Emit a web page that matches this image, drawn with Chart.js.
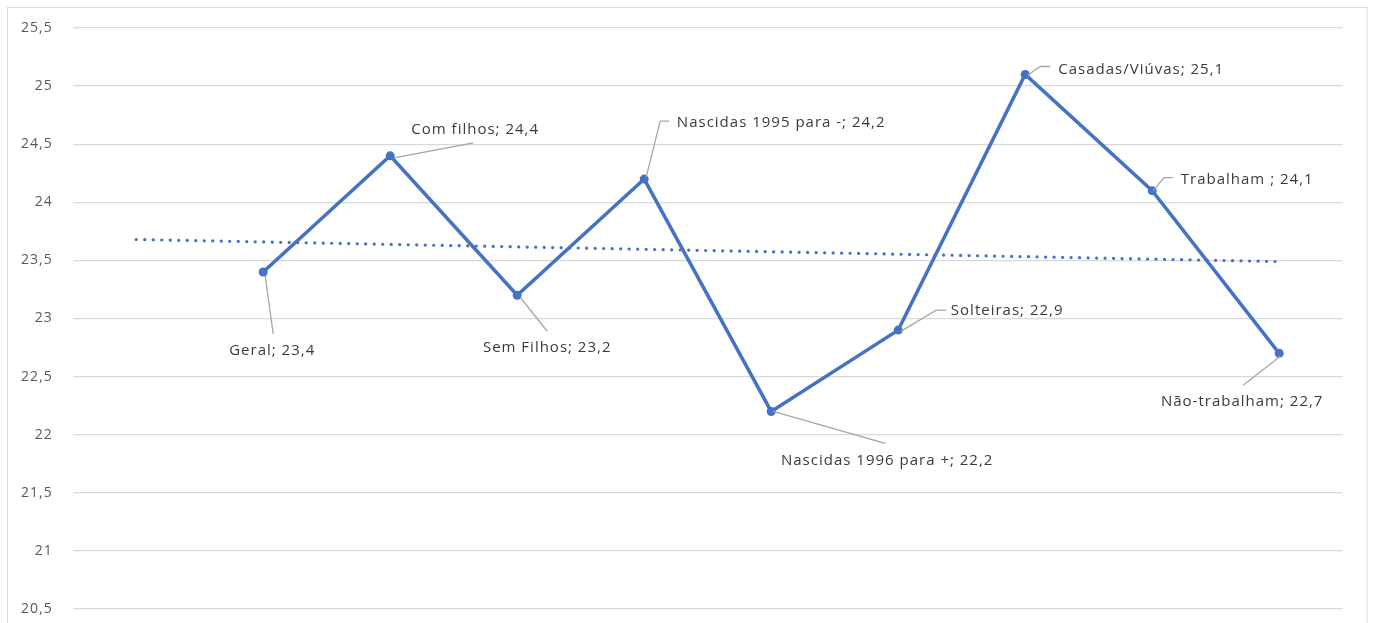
<!DOCTYPE html>
<html>
<head>
<meta charset="utf-8">
<script src="https://cdn.jsdelivr.net/npm/chart.js@4"></script>
<style>
  html, body { margin: 0; padding: 0; background: #fff; }
  #wrap { width: 1373px; height: 623px; position: relative; }
</style>
</head>
<body>
<div id="wrap"><canvas id="c" width="1373" height="623"></canvas></div>
<script>
// ---- data ----
const categories = ['', 'Geral', 'Com filhos', 'Sem Filhos', 'Nascidas 1995 para -', 'Nascidas 1996 para +', 'Solteiras', 'Casadas/Viúvas', 'Trabalham ', 'Não-trabalham'];
const values = [null, 23.4, 24.4, 23.2, 24.2, 22.2, 22.9, 25.1, 24.1, 22.7];
const trendStart = 23.68;
const trendEnd = 23.49;
const yTicks = [20.5, 21, 21.5, 22, 22.5, 23, 23.5, 24, 24.5, 25, 25.5];

// ---- label layout (text centre offset and leader path, relative to the point) ----
const labelLayout = [
  null,
  { t: [9, 79],    p: [[2, 4], [10, 62]] },
  { t: [85, -26],  p: [[4, 2], [83, -13]] },
  { t: [30, 52],   p: [[3, 2], [30, 36]] },
  { t: [137, -56], p: [[2, -2], [16, -58], [25, -58]] },
  { t: [116, 49],  p: [[2, 0], [114, 32]] },
  { t: [109, -19], p: [[3, 1], [38, -20], [48, -20]] },
  { t: [116, -5],  p: [[2, 1], [15, -8], [25, -8]] },
  { t: [95, -11],  p: [[1, 0], [12, -13], [21, -13]] },
  { t: [-37, 48],  p: [[1, 3], [-36, 32]] }
];

const fmt = v => String(v).replace('.', ',');

const trendData = categories.map(() => null);
trendData[0] = trendStart;
trendData[trendData.length - 1] = trendEnd;

const frame = {
  id: 'frame',
  beforeDraw(chart) {
    const ctx = chart.ctx;
    ctx.save();
    ctx.strokeStyle = '#d9d9d9';
    ctx.lineWidth = 1;
    ctx.strokeRect(7.5, 7.5, 1359.5, 700);
    ctx.restore();
    ctx.letterSpacing = '1px';
  }
};

const labels = {
  id: 'labels',
  afterDatasetsDraw(chart) {
    const ctx = chart.ctx;
    const meta = chart.getDatasetMeta(0);
    ctx.save();
    meta.data.forEach((el, i) => {
      const L = labelLayout[i];
      if (!L || values[i] == null) return;
      const x = el.x, y = el.y;
      ctx.strokeStyle = '#a6a6a6';
      ctx.lineWidth = 1.3;
      ctx.beginPath();
      L.p.forEach((q, k) => {
        if (k === 0) ctx.moveTo(x + q[0], y + q[1]);
        else ctx.lineTo(x + q[0], y + q[1]);
      });
      ctx.stroke();
      ctx.font = '15px "Open Sans"';
      ctx.letterSpacing = '1px';
      ctx.fillStyle = '#3a3a3a';
      ctx.textAlign = 'center';
      ctx.textBaseline = 'middle';
      ctx.fillText(categories[i] + '; ' + fmt(values[i]), x + L.t[0], y + L.t[1]);
    });
    ctx.restore();
  }
};

new Chart(document.getElementById('c'), {
  type: 'line',
  data: {
    labels: categories,
    datasets: [
      {
        data: values,
        borderColor: '#4472C4',
        backgroundColor: '#4472C4',
        borderWidth: 3.5,
        pointRadius: 4.5,
        pointHoverRadius: 4.5,
        pointBackgroundColor: '#4472C4',
        pointBorderWidth: 0,
        tension: 0,
        spanGaps: false
      },
      {
        data: trendData,
        borderColor: '#4472C4',
        borderWidth: 3.2,
        borderDash: [0.1, 8.4],
        borderCapStyle: 'round',
        pointRadius: 0,
        spanGaps: true,
        tension: 0
      }
    ]
  },
  options: {
    responsive: false,
    animation: false,
    events: [],
    layout: { padding: { left: 0, right: 30.3, top: 28, bottom: 14 } },
    plugins: { legend: { display: false }, tooltip: { enabled: false } },
    scales: {
      x: { display: false, offset: true },
      y: {
        min: 20.5,
        max: 25.5,
        afterBuildTicks(scale) { scale.ticks = yTicks.map(v => ({ value: v })); },
        afterFit(scale) { scale.width = 72.7; },
        border: { display: false },
        grid: { color: '#d9d9d9', lineWidth: 1.3, drawTicks: true, tickLength: 17, tickColor: 'rgba(0,0,0,0)' },
        ticks: {
          padding: 3,
          color: '#595959',
          font: { family: 'Open Sans', size: 14 },
          callback: v => fmt(v)
        }
      }
    }
  },
  plugins: [frame, labels]
});
</script>
</body>
</html>
